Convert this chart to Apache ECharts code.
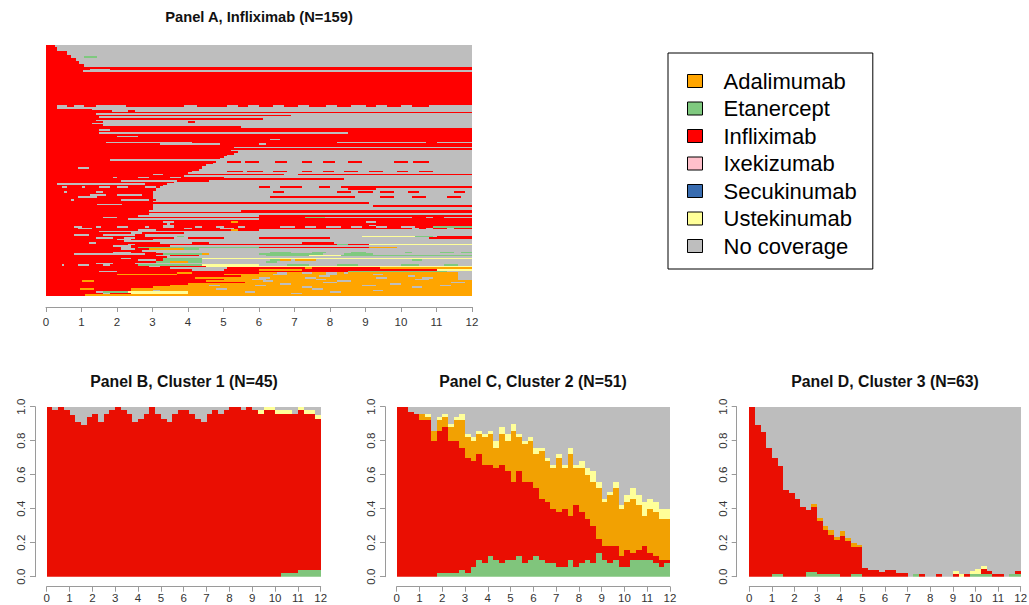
<!DOCTYPE html>
<html><head><meta charset="utf-8">
<script src="https://cdn.jsdelivr.net/npm/echarts@6/dist/echarts.min.js"></script>
<style>html,body{margin:0;padding:0;background:#fff}#c{width:1029px;height:605px}</style>
</head><body><div id="c"></div>
<script>
// ---------- states ----------
const stateNames = ['Adalimumab','Etanercept','Infliximab','Ixekizumab','Secukinumab','Ustekinumab','No coverage'];
const stateCodes = ['A','E','I','X','S','U','N'];
const colorsA = ['#FFA500','#7FC97F','#FF0000','#FFC0CB','#386CB0','#FFFF99','#BEBEBE'];
const colorsStack = {'Etanercept':'#80C57C','Infliximab':'#EA0E02','Adalimumab':'#F2A102','Ustekinumab':'#FFFF99','No coverage':'#BDBDBD'};

// ---------- Panel A: one string per patient (state letter + month the spell ends), "n*" = n identical rows ----------
const rowsA = [
 "I0.25 N12","3*I0.3 N12","2*I0.6 N12","I0.7 N12","I0.7 N1.07 E1.44 N12","2*I0.84 N12","2*I0.93 N12","2*I1.07 N12",
 "I12","I1.25 N1.8 I12","I1.05 N12","21*I12",
 "I0.3 N0.6 I0.8 N1.07 I1.4 N2.25 I3.9 N4.25 I5.1 N5.4 I5.7 N6 I6.4 N6.7 I7.1 N7.4 I7.9 N8.2 I8.6 N9 I9.3 N9.6 I10 N10.3 I10.8 N12",
 "I0.3 N12","I1.3 N12","I1.85 N2.3 I2.5 N12","I12","I1.4 N12","I6.9 N12","I1.5 N12","I6.1 N12","I1.4 N12","I1.6 N4 I4.2 N12",
 "I1.3 N12","I1.6 N12","I5.5 N12","I12","I1.5 N1.8 I12","I12","I1.5 N8.5 I12","I12","I2 N2.6 I12","I12","I6.3 N6.6 I12","I12",
 "I1.7 N4.1 I8.2 N10.7 I11 N12","I3.2 N4.9 I6 N6.2 I12","I12","I5.3 N12","I12","I5.2 N12","I5.4 N12","I5.3 N12","I5.1 N12",
 "I5 N12","I4.9 N12","I1.8 N12",
 "I4.8 N5.1 I5.5 N5.6 I6 N6.45 I6.8 N7.2 I7.5 N7.8 I8.15 N8.5 I8.9 N9.8 I10.2 N10.35 I10.8 N12",
 "I4.7 N12","I4.5 N12","I4.4 N12","I0.9 N1.2 I4.4 N12","I4.3 N12",
 "I4.1 N5.1 I5.55 N5.65 I6.1 N6.4 I6.8 N7.2 I7.5 N7.8 I8.1 N8.4 I8.8 N9.1 I9.5 N9.9 I10.2 N10.5 I10.9 N12",
 "I4 N12","I3 N3.3 I6.7 N7.1 I12","I3.9 N12","I1.9 N2 I2.6 N2.9 I3.5 N3.8 I5 N12","I8.4 N12","I2.1 N3.7 I4.6 N12","I3.6 N12",
 "I0.3 N2.8 I3.4 N12","I3.3 N12",
 "I0.45 N0.6 I1 N1.1 I1.5 N1.8 I2 N2.3 I2.8 N3.1 I3.2 N6 I6.3 N6.6 I7.2 N7.7 I8 N8.3 I12",
 "I3.1 N8.5 I9.3 N12","I3.1 N12",
 "I0.5 N0.6 I1.4 N1.6 I3 N6.4 I6.7 N8.2 I8.6 N8.8 I9.2 N9.4 I9.8 N10.2 I10.5 N11.5 I11.8 N12",
 "I3 N12","I1.25 N1.7 I2 N2.7 I3 N12",
 "I0.9 N1.45 I3 N6.3 I8.7 N9.4 I9.8 N10.3 I10.7 N11.3 I11.7 N12",
 "I3 N12","I0.7 N0.8 I2.1 N2.9 I3.1 N12","I3 N12","I9.1 N12","I1.45 N2.15 I3 N12","I3 N9.2 I12","2*I3 N12",
 "I2.9 N5.5 I12","I12","I2.9 N12","I2.6 N6 I12","I1.6 N2 I7.3 E7.85 N10.3 I10.7 N10.9 I11.2 N12","I2.3 N6 I12","I12",
 "I3.3 N3.6 I5.2 A5.4 I9 N9.3 I12","I3.4 N3.5 I12",
 "I3.3 N3.6 I9.1 N9.3 I12",
 "I0.8 N1 I1.4 N1.55 I2 N2.3 I2.8 N2.9 I3.3 N3.6 I4.2 N4.4 I4.8 N5 I5.4 N5.6 I6.6 N7 I7.3 N7.6 I7.9 N8.3 I8.6 N8.9 I9.3 N9.6 I10 N10.4 I10.9 E12",
 "I0.9 N1.3 I3.9 N4.1 I4.9 N5.3 I10.3 N10.5 I10.7 N10.9 I11.3 N11.5 I12",
 "I2.6 N3.1 I5.2 A5.4 I6 N12","I1.5 N12","I2.4 N2.7 I3.9 N12",
 "I0.8 N1.2 I1.6 N2.5 I2.8 N12",
 "I2.8 N3.7 E3.9 N8.9 U10.4 E10.9 N11 I12",
 "I1.4 N1.9 I2.2 N2.5 I3.6 N4 I5 N6 I8 N10.8 I12",
 "I2 N2.4 I3 N12","I2.2 N12","I1.2 N1.4 I3.2 N4.1 I4.6 N7.2 I8.1 N12",
 "I2.3 N2.5 I8.2 E8.5 I9.1 U12",
 "I1.9 N2.4 I3.5 N12",
 "I2.1 N2.4 I2.6 E6 I9.1 A9.9 N12",
 "I2.1 N2.5 I2.9 A3.9 E4.3 N12","I2.7 N12",
 "I1.9 N2.4 I3.1 N6.3 E6.9 N7.5 E7.9 N8.6 E9 N10.1 E10.3 N11.1 E11.5 N11.7 E12",
 "I0.8 N2.8 I3.3 E4.4 A4.6 N6 E7.8 N8.4 E9.2 N12",
 "I3.1 N3.5 I4.3 N6.2 E7.4 U8.3 E12","I3.4 N12",
 "I2.1 N2.4 I3.3 E4.4 U12",
 "I2.6 N3.1 I3.3 E4.4 N6.3 E6.6 A6.9 N7 A7.6 N10.3 E10.6 N12",
 "I3.1 E3.5 A4 E4.4 N6.2 E6.5 N12","I1.4 N1.9 I2.5 N12",
 "I0.45 N0.5 I0.9 N1.2 I1.6 N1.8 I2.6 E4.4 U6 N6.8 E7.4 N8.2 E8.8 N10 E10.5 N11.2 E11.6 N12",
 "I2.9 N3.2 I4.5 U12",
 "I3.5 N5.1 I7.3 A7.5 I9.4 A12",
 "I4.1 N5 I6 A7.2 I11 U12",
 "I1.5 N2 I8.5 E11.3 N12",
 "I3.7 A4.1 I6 A6.5 N6.8 A7.2 N7.5 A7.9 N8.2 A8.4 N8.5 A11.6 N12",
 "I2 A3.7 I5 A6.4 N6.8 A7.9 N8.2 A9.2 N9.5 A11.6 N12",
 "I5.5 A7.7 N8 A10.2 N10.4 A11.6 N12",
 "I4.2 A6 N6.3 A7.3 N7.6 A9.3 N9.6 A10.6 N10.9 A11.6 N12",
 "I5 A5.8 N6.2 A7.6 N7.9 A10.4 N10.8 A11.6 N12",
 "I1 A1.35 I4.5 A6.1 N6.4 A8.2 N8.6 A12",
 "I5.6 A7.8 N8.2 A11.4 N11.8 A12",
 "I4 A6.6 N6.9 A9.7 N10 A12",
 "I3.5 A4.6 N4.9 A5.9 N6.2 A8.9 N9.3 A11.1 N11.4 A12",
 "I3 A7.2 N7.5 A10.3 N10.6 A12",
 "I0.95 A1.35 I2.4 A4.8 N5.1 A7.5 N7.8 A12",
 "I2.4 A3 N3.2 A9.2 N9.5 A12",
 "I1.4 N1.6 E2.3 U4 A5.6 N5.9 A8 N8.3 A12",
 "I1.6 N1.8 I2.4 U4 A6.9 N7.2 A12",
 "I1.1 A12"
];

// ---------- Panels B-D: share of patients in each state, per quarter-month step (0-12 months) ----------
const stepMonths = 0.25;

const bEtan = [0,0,0,0,0,0,0,0,0,0,0,0,0,0,0,0,0,0,0,0,0,0,0,0,0,0,0,0,0,0,0,0,0,0,0,0,0,0,0,0,0,.02,.02,.02,.04,.04,.04,.04];
const bInfl = [1,.98,1,.98,.95,.91,.89,.94,.96,.91,.96,.98,1,.98,.96,.91,.93,.96,1,.96,.93,.91,.96,.98,.98,.96,.93,.91,.96,.98,.96,.98,1,1,.98,1,.98,.96,.98,.98,.96,.94,.94,.94,.94,.92,.92,.89];
const bAdal = [0,0,0,0,0,0,0,0,0,0,0,0,0,0,0,0,0,0,0,0,0,0,0,0,0,0,0,0,0,0,0,0,0,0,0,0,0,0,0,0,0,0,0,0,0,0,0,0];
const bUste = [0,0,0,0,0,0,0,0,0,0,0,0,0,0,0,0,0,0,0,0,0,0,0,0,0,0,0,0,0,0,0,0,0,0,0,0,0,.02,.02,.02,.02,.02,.02,0,.02,.02,.02,.02];
const bNone = [0,.02,0,.02,.05,.09,.11,.06,.04,.09,.04,.02,0,.02,.04,.09,.07,.04,0,.04,.07,.09,.04,.02,.02,.04,.07,.09,.04,.02,.04,.02,0,0,.02,0,.02,.02,0,0,.02,.02,.02,.04,0,.02,.02,.05];

const cEtan = [0,0,0,0,0,0,0,.02,.02,.02,.02,.04,.02,.06,.10,.08,.12,.10,.08,.10,.10,.12,.08,.10,.12,.10,.08,.08,.06,.06,.10,.06,.08,.10,.08,.14,.10,.08,.10,.06,.06,.10,.10,.10,.10,.08,.06,.08];
const cInfl = [1,1,.97,.96,.92,.92,.80,.84,.86,.78,.78,.72,.68,.62,.62,.58,.54,.54,.58,.52,.46,.50,.48,.46,.40,.36,.36,.32,.32,.34,.26,.36,.30,.24,.22,.08,.08,.10,.08,.06,.10,.04,.06,.08,.04,.04,.04,.02];
const cAdal = [0,0,0,0,.04,.02,.06,.06,.06,.08,.12,.16,.12,.12,.12,.16,.18,.12,.18,.18,.30,.20,.22,.24,.20,.28,.24,.24,.32,.24,.36,.22,.26,.26,.26,.30,.26,.30,.34,.28,.28,.32,.26,.18,.26,.26,.24,.24];
const cUste = [0,0,0,0,0,.02,0,.02,.02,.02,.02,.04,.02,.02,.02,.02,.02,.04,.04,.04,.04,.02,.02,.02,.04,.02,.02,.02,.02,.02,.04,.02,.04,.04,.06,.04,.02,.02,.04,.02,.04,.06,.06,.08,.06,.06,.06,.06];
const cNone = [0,0,.03,.04,.04,.04,.14,.06,.04,.10,.06,.04,.16,.18,.14,.16,.14,.20,.12,.16,.10,.16,.20,.18,.24,.24,.30,.34,.28,.34,.24,.34,.32,.36,.38,.44,.54,.50,.44,.58,.52,.48,.52,.56,.54,.56,.60,.60];

const dEtan = [0,0,0,0,.016,.016,0,0,0,0,.03,.03,.016,.016,.016,.016,0,0,.016,.016,0,0,0,0,0,0,0,0,0,.016,0,0,0,0,0,0,0,0,0,.016,.016,.016,.016,0,0,0,.016,.016];
const dInfl = [1,.89,.85,.76,.684,.634,.51,.49,.46,.41,.36,.38,.31,.26,.23,.20,.24,.21,.16,.16,.05,.04,.04,.03,.04,.04,.02,.02,0,0,.016,0,0,.016,0,0,.016,0,.016,0,0,.03,.016,.016,.016,0,0,.016];
const dAdal = [0,0,0,0,0,0,0,0,0,0,0,.02,.02,.02,.03,.02,.03,.02,.02,.01,0,0,0,0,0,0,0,0,0,0,0,0,0,0,0,0,0,0,0,0,0,0,0,0,0,0,0,0];
const dUste = [0,0,0,0,0,0,0,0,0,0,0,0,0,0,0,0,0,0,0,0,0,0,0,0,0,0,0,0,0,0,0,0,0,0,0,0,.016,.016,0,.016,.03,.016,0,0,0,0,0,0];
const dNone = [0,.11,.15,.24,.30,.35,.49,.51,.54,.59,.61,.57,.654,.704,.724,.764,.73,.77,.804,.814,.95,.96,.96,.97,.96,.96,.98,.98,1,.984,.984,1,1,.984,1,1,.968,.984,.984,.968,.954,.938,.968,.984,.984,1,.984,.968];

const panelTitles = ['Panel A, Infliximab (N=159)','Panel B, Cluster 1 (N=45)','Panel C, Cluster 2 (N=51)','Panel D, Cluster 3 (N=63)'];
const stackPanels = [
  [['Etanercept',bEtan],['Infliximab',bInfl],['Adalimumab',bAdal],['Ustekinumab',bUste],['No coverage',bNone]],
  [['Etanercept',cEtan],['Infliximab',cInfl],['Adalimumab',cAdal],['Ustekinumab',cUste],['No coverage',cNone]],
  [['Etanercept',dEtan],['Infliximab',dInfl],['Adalimumab',dAdal],['Ustekinumab',dUste],['No coverage',dNone]]
];

// ---------- build ----------
const segs = stateCodes.map(() => []);
let nRowsA = 0;
rowsA.forEach(str => {
  let rep = 1, body = str;
  const m = str.match(/^(\d+)\*(.*)$/);
  if (m) { rep = +m[1]; body = m[2]; }
  const toks = body.trim().split(/\s+/);
  for (let r = 0; r < rep; r++) {
    let t = 0;
    toks.forEach(tok => {
      const end = parseFloat(tok.slice(1));
      segs[stateCodes.indexOf(tok[0])].push([t, end, nRowsA]);
      t = end;
    });
    nRowsA++;
  }
});

function rectFrom(api, xa, xb, ya, yb, color) {
  const p0 = api.coord([xa, ya]);
  const p1 = api.coord([xb, yb]);
  const x0 = Math.round(p0[0]), x1 = Math.round(p1[0]);
  const y0 = Math.round(Math.min(p0[1], p1[1])), y1 = Math.round(Math.max(p0[1], p1[1]));
  return {type: 'rect', shape: {x: x0, y: y0, width: x1 - x0, height: y1 - y0}, style: {fill: color}};
}
const rowRect = color => (params, api) => rectFrom(api, api.value(0), api.value(1), api.value(2), api.value(2) + 1, color);
const stackRect = color => (params, api) => rectFrom(api, api.value(0), api.value(1), api.value(2), Math.min(1, api.value(3)), color);

const series = [];
stateNames.forEach((name, i) => {
  series.push({type: 'custom', name, xAxisIndex: 0, yAxisIndex: 0, data: segs[i], clip: true,
    encode: {x: [0, 1], y: 2}, itemStyle: {color: colorsA[i]}, renderItem: rowRect(colorsA[i]), silent: true});
});
stackPanels.forEach((panel, pi) => {
  const nSteps = panel[0][1].length;
  const cum = new Array(nSteps).fill(0);
  panel.forEach(([name, vals]) => {
    const data = vals.map((v, k) => { const d = [k * stepMonths, (k + 1) * stepMonths, cum[k], cum[k] + v]; cum[k] += v; return d; });
    series.push({type: 'custom', name, xAxisIndex: pi + 1, yAxisIndex: pi + 1, data, clip: true,
      encode: {x: [0, 1], y: [2, 3]}, itemStyle: {color: colorsStack[name]}, renderItem: stackRect(colorsStack[name]), silent: true});
  });
});

const FONT = 'Liberation Sans, Arial, sans-serif';
const axisCol = '#9a9a9a';
const grids = [
  {left: 46, top: 45, width: 426, height: 251},
  {left: 46.7, top: 406.7, width: 274, height: 170},
  {left: 396.7, top: 406.7, width: 273.3, height: 170},
  {left: 749.3, top: 406.7, width: 271.4, height: 170}
].map(g => Object.assign({outerBoundsMode: 'none', containLabel: false, show: false}, g));

function xAx(gi, offset, margin) {
  return {gridIndex: gi, type: 'value', min: 0, max: 12, interval: 1, offset,
    axisLine: {show: true, onZero: false, lineStyle: {color: axisCol, width: 1}},
    axisTick: {show: true, length: 5, lineStyle: {color: axisCol}},
    axisLabel: {show: true, margin, fontSize: 11.5, color: '#333', fontFamily: FONT, formatter: v => String(v)},
    splitLine: {show: false}};
}
function yAx(gi, offset) {
  return {gridIndex: gi, type: 'value', min: 0, max: 1, interval: 0.2, offset,
    axisLine: {show: true, onZero: false, lineStyle: {color: axisCol, width: 1}},
    axisTick: {show: true, length: 5, lineStyle: {color: axisCol}},
    axisLabel: {show: true, rotate: 90, margin: 8, fontSize: 11.5, color: '#333', fontFamily: FONT,
      formatter: v => v.toFixed(1)},
    splitLine: {show: false}};
}

const titleCenters = [[259, 18], [184, 382], [533, 382], [885, 382]];
const titleSizes = [14.7, 15.8, 15.8, 15.8];
const option = {
  animation: false,
  backgroundColor: '#fff',
  title: panelTitles.map((t, i) => ({text: t, left: titleCenters[i][0], top: titleCenters[i][1] - titleSizes[i] / 2 - 1,
    textAlign: 'center', padding: 0,
    textStyle: {fontSize: titleSizes[i], fontWeight: 'bold', color: '#111', fontFamily: FONT}})),
  legend: {
    orient: 'vertical', left: 668, top: 53, data: stateNames, selectedMode: false,
    itemWidth: 15, itemHeight: 13, itemGap: 5.5, icon: 'rect',
    padding: [17, 16, 12, 19], borderColor: '#000', borderWidth: 1, borderRadius: 0,
    itemStyle: {borderColor: '#000', borderWidth: 1},
    textStyle: {fontSize: 22, lineHeight: 22, color: '#000', fontFamily: FONT, padding: [0, 0, 0, 16]}
  },
  grid: grids,
  xAxis: [xAx(0, 11, 9), xAx(1, 10, 5), xAx(2, 10, 5), xAx(3, 10, 5)],
  yAxis: [
    {gridIndex: 0, type: 'value', min: 0, max: nRowsA, inverse: true, show: false},
    yAx(1, 11.7), yAx(2, 11.7), yAx(3, 12.6)
  ],
  series
};
const chart = echarts.init(document.getElementById('c'), null, {renderer: 'svg'});
chart.setOption(option);
console.log('rows', nRowsA);
</script>
</body></html>
